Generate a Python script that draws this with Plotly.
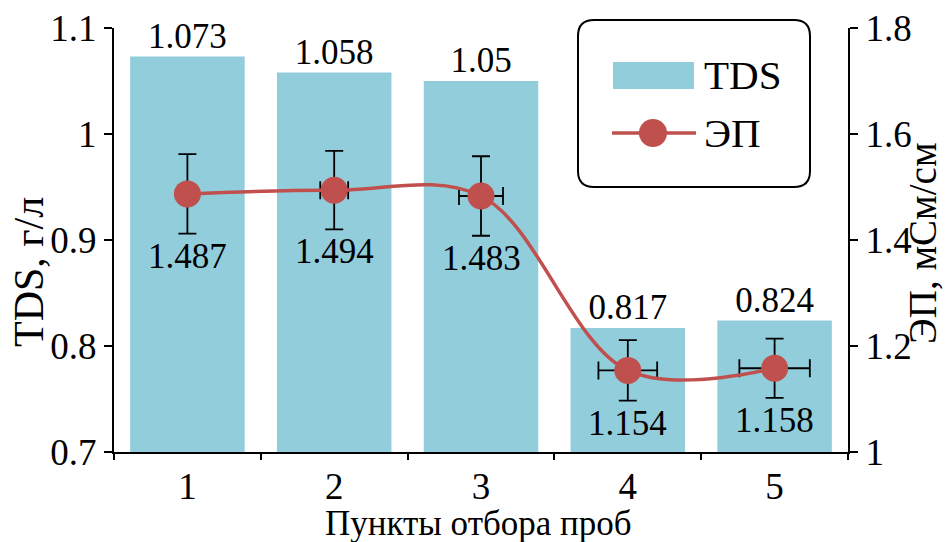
import plotly.graph_objects as go

# Sampling points and measured values
points = [1, 2, 3, 4, 5]
point_labels = ["1", "2", "3", "4", "5"]
tds = [1.073, 1.058, 1.05, 0.817, 0.824]          # g/L
ep = [1.487, 1.494, 1.483, 1.154, 1.158]          # mS/cm
ep_err_y = [0.075, 0.074, 0.075, 0.057, 0.056]
ep_err_x = [0.0, 0.095, 0.15, 0.2, 0.24]

tds_ticks = [0.7, 0.8, 0.9, 1.0, 1.1]
ep_ticks = [1.0, 1.2, 1.4, 1.6, 1.8]

FONT = "Liberation Serif, Times New Roman, serif"
BAR_COLOR = "#92CDDC"
LINE_COLOR = "#C0504D"

W, H = 947, 542
ML, MR, MT, MB = 114, 99, 28, 90
PW, PH = W - ML - MR, H - MT - MB


def px(x):
    return (x - ML) / PW


def py(y):
    return (H - MB - y) / PH


fig = go.Figure()

fig.add_trace(go.Bar(
    x=points, y=tds, width=0.78, marker=dict(color=BAR_COLOR, line=dict(width=0)),
    name="TDS", showlegend=False, yaxis="y",
))
fig.add_trace(go.Scatter(
    x=points, y=tds, mode="text", text=[f"{v:g}" for v in tds],
    textposition="top center", textfont=dict(family=FONT, size=35, color="black"),
    showlegend=False, hoverinfo="skip", yaxis="y", cliponaxis=False,
))
fig.add_trace(go.Scatter(
    x=points, y=ep, mode="lines+markers", name="ЭП", showlegend=False,
    line=dict(color=LINE_COLOR, width=3.5, shape="spline", smoothing=1.0),
    marker=dict(color=LINE_COLOR, size=27),
    error_y=dict(type="data", array=ep_err_y, color="black", thickness=1.8, width=9),
    error_x=dict(type="data", array=ep_err_x, color="black", thickness=1.8, width=9),
    yaxis="y2", cliponaxis=False,
))

# ЭП value labels sit just under the lower error-bar cap
annotations = [
    dict(x=x, y=v - e, xref="x", yref="y2", text=f"{v:g}", showarrow=False,
         xanchor="center", yanchor="top", yshift=-1,
         font=dict(family=FONT, size=35, color="black"))
    for x, v, e in zip(points, ep, ep_err_y)
]

# Legend box with rounded corners
bx0, by0, bx1, by1, r = 578, 20, 810, 187, 16
path = (
    f"M {px(bx0 + r)} {py(by0)} L {px(bx1 - r)} {py(by0)} "
    f"Q {px(bx1)} {py(by0)} {px(bx1)} {py(by0 + r)} "
    f"L {px(bx1)} {py(by1 - r)} Q {px(bx1)} {py(by1)} {px(bx1 - r)} {py(by1)} "
    f"L {px(bx0 + r)} {py(by1)} Q {px(bx0)} {py(by1)} {px(bx0)} {py(by1 - r)} "
    f"L {px(bx0)} {py(by0 + r)} Q {px(bx0)} {py(by0)} {px(bx0 + r)} {py(by0)} Z"
)
shapes = [
    dict(type="path", xref="paper", yref="paper", path=path,
         line=dict(color="black", width=2), fillcolor="white", layer="above"),
    dict(type="rect", xref="paper", yref="paper", x0=px(613), x1=px(694),
         y0=py(89), y1=py(62), fillcolor=BAR_COLOR, line=dict(width=0), layer="above"),
    dict(type="line", xref="paper", yref="paper", x0=px(612), x1=px(696),
         y0=py(133), y1=py(133), line=dict(color=LINE_COLOR, width=3.5), layer="above"),
    dict(type="circle", xref="paper", yref="paper", x0=px(639), x1=px(667),
         y0=py(147), y1=py(119), fillcolor=LINE_COLOR, line=dict(width=0), layer="above"),
]
annotations += [
    dict(xref="paper", yref="paper", x=px(702), y=py(75), text="TDS", showarrow=False,
         xanchor="left", yanchor="middle", font=dict(family=FONT, size=41, color="black")),
    dict(xref="paper", yref="paper", x=px(702), y=py(133), text="ЭП", showarrow=False,
         xanchor="left", yanchor="middle", font=dict(family=FONT, size=41, color="black")),
    # axis titles
    dict(xref="paper", yref="paper", x=px(478), y=py(523), text="Пункты отбора проб",
         showarrow=False, xanchor="center", yanchor="middle",
         font=dict(family=FONT, size=35, color="black")),
    dict(xref="paper", yref="paper", x=px(29), y=py(272), text="TDS, г/л", textangle=-90,
         showarrow=False, xanchor="center", yanchor="middle",
         font=dict(family=FONT, size=42, color="black")),
    dict(xref="paper", yref="paper", x=px(922), y=py(243), text="ЭП, мСм/см", textangle=-90,
         showarrow=False, xanchor="center", yanchor="middle",
         font=dict(family=FONT, size=39, color="black")),
]

axis_common = dict(
    showgrid=False, zeroline=False, showline=True, linecolor="black", linewidth=2,
    ticks="outside", tickcolor="black", tickwidth=2, ticklen=8, automargin=False,
    tickfont=dict(family=FONT, size=37, color="black"),
)

fig.update_layout(
    width=W, height=H, margin=dict(l=ML, r=MR, t=MT, b=MB, autoexpand=False),
    paper_bgcolor="white", plot_bgcolor="white", showlegend=False,
    xaxis=dict(
        **{k: v for k, v in axis_common.items() if k not in ("tickcolor", "ticklen")},
        range=[0.5, 5.5], tickvals=points, ticktext=point_labels,
        tickcolor="rgba(0,0,0,0)", ticklen=1,
        minor=dict(tickvals=[0.5, 1.5, 2.5, 3.5, 4.5, 5.5], ticks="outside",
                   ticklen=6, tickcolor="black", tickwidth=2),
    ),
    yaxis=dict(
        **axis_common, range=[0.7, 1.1], tickvals=tds_ticks,
        ticktext=[f"{v:g}" for v in tds_ticks],
    ),
    yaxis2=dict(
        **axis_common, range=[1.0, 1.8], tickvals=ep_ticks,
        ticktext=[f"{v:g}" for v in ep_ticks], overlaying="y", side="right",
    ),
    shapes=shapes, annotations=annotations,
)

fig.write_html("out.html")
